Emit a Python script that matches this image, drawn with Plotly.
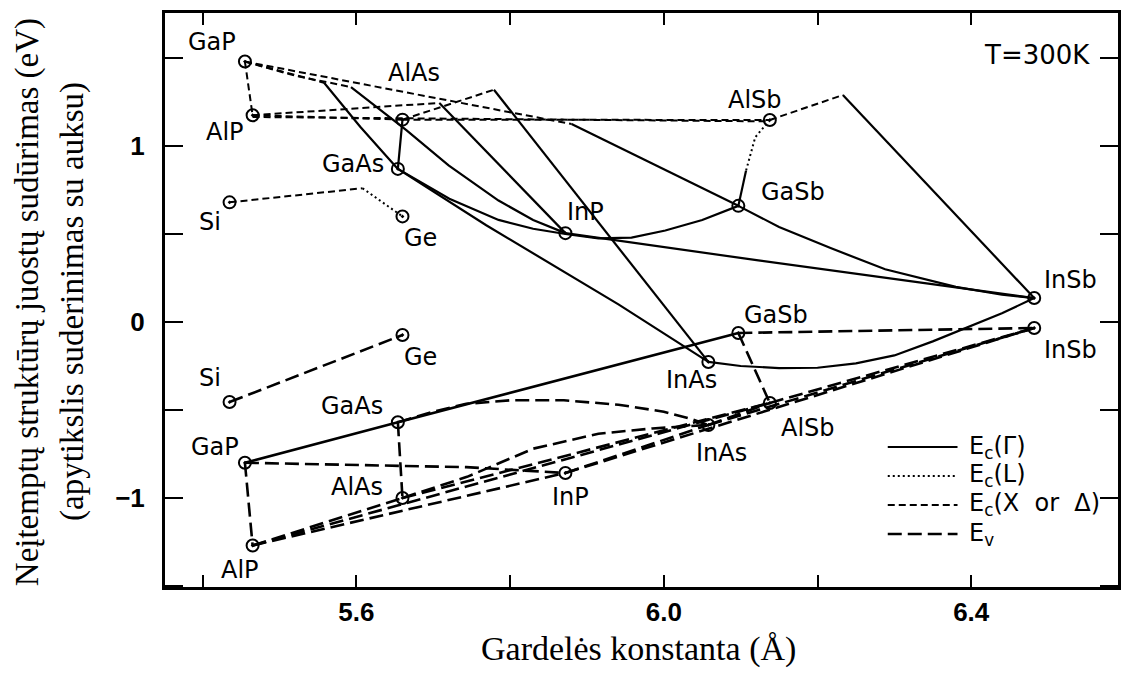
import plotly.graph_objects as go

# ---------------- data ----------------
materials = ["GaP", "AlP", "AlAs", "GaAs", "InP", "GaSb", "AlSb", "InSb", "InAs", "Si", "Ge"]
lattice = [5.455, 5.465, 5.660, 5.654, 5.872, 6.097, 6.138, 6.482, 6.058, 5.435, 5.660]
ec_edge = [1.48, 1.175, 1.15, 0.87, 0.505, 0.66, 1.148, 0.136, -0.227, 0.68, 0.60]
ev_edge = [-0.80, -1.27, -1.00, -0.57, -0.858, -0.0625, -0.46, -0.034, -0.585, -0.455, -0.074]

# conduction band, Gamma (solid)
gaasp_g_x = [5.558, 5.605, 5.654]
gaasp_g_y = [1.36, 1.11, 0.87]
gainp_g_x = [5.593, 5.665, 5.72, 5.785, 5.83, 5.872]
gainp_g_y = [1.335, 1.09, 0.89, 0.69, 0.58, 0.505]
alinp_g_x = [5.708, 5.872]
alinp_g_y = [1.245, 0.505]
alinas_g_x = [5.779, 6.058]
alinas_g_y = [1.32, -0.227]
gainas_g_x = [5.654, 5.70, 5.769, 5.941, 6.058]
gainas_g_y = [0.87, 0.74, 0.55, 0.10, -0.227]
gaassb_g_x = [5.654, 5.721, 5.785, 5.83, 5.872, 5.915, 5.958, 6.002, 6.05, 6.097]
gaassb_g_y = [0.87, 0.70, 0.58, 0.53, 0.50, 0.475, 0.48, 0.52, 0.58, 0.66]
inpsb_g_x = [5.872, 6.123, 6.33, 6.482]
inpsb_g_y = [0.505, 0.35, 0.227, 0.136]
gapsb_g_x = [5.88, 6.097]
gapsb_g_y = [1.125, 0.66]
gainsb_g_x = [6.097, 6.15, 6.217, 6.288, 6.38, 6.44, 6.482]
gainsb_g_y = [0.66, 0.54, 0.42, 0.30, 0.20, 0.155, 0.136]
inassb_g_x = [6.058, 6.10, 6.15, 6.20, 6.25, 6.30, 6.35, 6.39, 6.44, 6.482]
inassb_g_y = [-0.227, -0.25, -0.262, -0.26, -0.235, -0.19, -0.11, -0.04, 0.05, 0.136]
alinsb_g_x = [6.233, 6.482]
alinsb_g_y = [1.29, 0.136]
algaas_g_x = [5.660, 5.654]
algaas_g_y = [1.15, 0.87]
algasb_g_x = [6.107, 6.100, 6.097]
algasb_g_y = [0.86, 0.72, 0.66]

# conduction band, L (dotted)
sige_l_x = [5.608, 5.660]
sige_l_y = [0.76, 0.60]
algasb_l_x = [6.138, 6.119, 6.107]
algasb_l_y = [1.148, 1.05, 0.86]

# conduction band, X or Delta (short dashes)
gapalp_x_x = [5.455, 5.459, 5.464, 5.465]
gapalp_x_y = [1.48, 1.36, 1.20, 1.175]
gaasp_x_x = [5.455, 5.558]
gaasp_x_y = [1.48, 1.36]
gainp_x_x = [5.455, 5.52, 5.593]
gainp_x_y = [1.48, 1.40, 1.335]
gapsb_x_x = [5.455, 5.88]
gapsb_x_y = [1.48, 1.125]
alpas_x_x = [5.465, 5.660]
alpas_x_y = [1.175, 1.15]
alassb_x_x = [5.660, 6.138]
alassb_x_y = [1.15, 1.148]
alpsb_x_x = [5.465, 6.138]
alpsb_x_y = [1.165, 1.14]
alinp_x_x = [5.465, 5.708]
alinp_x_y = [1.175, 1.245]
alinas_x_x = [5.660, 5.779]
alinas_x_y = [1.15, 1.32]
alinsb_x_x = [6.138, 6.233]
alinsb_x_y = [1.148, 1.29]
sige_x_x = [5.435, 5.608]
sige_x_y = [0.68, 0.76]

# valence band (long dashes)
sige_v_x = [5.435, 5.660]
sige_v_y = [-0.455, -0.074]
gainp_v_x = [5.455, 5.743, 5.872]
gainp_v_y = [-0.80, -0.825, -0.858]
gapalp_v_x = [5.455, 5.461, 5.465]
gapalp_v_y = [-0.80, -1.085, -1.27]
algaas_v_x = [5.654, 5.660]
algaas_v_y = [-0.57, -1.00]
gainas_v_x = [5.654, 5.70, 5.743, 5.80, 5.87, 5.941, 6.0, 6.035, 6.058]
gainas_v_y = [-0.57, -0.51, -0.465, -0.445, -0.445, -0.47, -0.51, -0.55, -0.585]
alinas_v_x = [5.660, 5.744, 5.83, 5.915, 5.985, 6.058]
alinas_v_y = [-1.00, -0.88, -0.72, -0.635, -0.605, -0.585]
alpas_v_x = [5.465, 5.660]
alpas_v_y = [-1.27, -1.00]
alassb_v_x = [5.660, 6.138]
alassb_v_y = [-1.00, -0.46]
alpsb_v_x = [5.465, 6.138]
alpsb_v_y = [-1.27, -0.46]
alinp_v_x = [5.465, 5.872]
alinp_v_y = [-1.27, -0.858]
inasp_v_x = [5.872, 6.058]
inasp_v_y = [-0.858, -0.585]
inpsb_v_x = [5.872, 6.482]
inpsb_v_y = [-0.858, -0.034]
inassb_v_x = [6.058, 6.482]
inassb_v_y = [-0.585, -0.034]
alinsb_v_x = [6.138, 6.482]
alinsb_v_y = [-0.46, -0.034]
inalassb_v_x = [6.058, 6.138]
inalassb_v_y = [-0.585, -0.46]
algasb_v_x = [6.097, 6.138]
algasb_v_y = [-0.0625, -0.46]
gainsb_v_x = [6.097, 6.482]
gainsb_v_y = [-0.0625, -0.034]
# GaP - GaAs - GaSb valence line (drawn solid in the picture)
gapassb_v_x = [5.455, 5.654, 6.097]
gapassb_v_y = [-0.80, -0.57, -0.0625]

# ---------------- styles ----------------
S_G = dict(color="black", width=2.2, dash="solid")
S_L = dict(color="black", width=2, dash="2px,3px")
S_X = dict(color="black", width=2, dash="7px,4px")
S_V = dict(color="black", width=2.6, dash="14px,6px")
S_VS = dict(color="black", width=2.6, dash="solid")

fig = go.Figure()


def add(xs, ys, style):
    fig.add_trace(go.Scatter(x=xs, y=ys, mode="lines", line=style,
                             showlegend=False, hoverinfo="skip"))


for xs, ys in [(gaasp_g_x, gaasp_g_y), (gainp_g_x, gainp_g_y), (alinp_g_x, alinp_g_y),
               (alinas_g_x, alinas_g_y), (gainas_g_x, gainas_g_y), (gaassb_g_x, gaassb_g_y),
               (inpsb_g_x, inpsb_g_y), (gapsb_g_x, gapsb_g_y), (gainsb_g_x, gainsb_g_y),
               (inassb_g_x, inassb_g_y), (alinsb_g_x, alinsb_g_y), (algaas_g_x, algaas_g_y),
               (algasb_g_x, algasb_g_y)]:
    add(xs, ys, S_G)

for xs, ys in [(sige_l_x, sige_l_y), (algasb_l_x, algasb_l_y)]:
    add(xs, ys, S_L)

for xs, ys in [(gapalp_x_x, gapalp_x_y), (gaasp_x_x, gaasp_x_y), (gainp_x_x, gainp_x_y),
               (gapsb_x_x, gapsb_x_y), (alpas_x_x, alpas_x_y), (alassb_x_x, alassb_x_y),
               (alpsb_x_x, alpsb_x_y), (alinp_x_x, alinp_x_y), (alinas_x_x, alinas_x_y),
               (alinsb_x_x, alinsb_x_y), (sige_x_x, sige_x_y)]:
    add(xs, ys, S_X)

for xs, ys in [(sige_v_x, sige_v_y), (gainp_v_x, gainp_v_y), (gapalp_v_x, gapalp_v_y),
               (algaas_v_x, algaas_v_y), (gainas_v_x, gainas_v_y), (alinas_v_x, alinas_v_y),
               (alpas_v_x, alpas_v_y), (alassb_v_x, alassb_v_y), (alpsb_v_x, alpsb_v_y),
               (alinp_v_x, alinp_v_y), (inasp_v_x, inasp_v_y), (inpsb_v_x, inpsb_v_y),
               (inassb_v_x, inassb_v_y), (alinsb_v_x, alinsb_v_y), (inalassb_v_x, inalassb_v_y),
               (algasb_v_x, algasb_v_y), (gainsb_v_x, gainsb_v_y)]:
    add(xs, ys, S_V)

add(gapassb_v_x, gapassb_v_y, S_VS)

# binary compound markers
marker = dict(symbol="circle-open-dot", size=12, color="black", line=dict(width=2, color="black"))
fig.add_trace(go.Scatter(x=lattice, y=ec_edge, mode="markers", marker=marker,
                         text=materials, showlegend=False, hoverinfo="text"))
fig.add_trace(go.Scatter(x=lattice, y=ev_edge, mode="markers", marker=marker,
                         text=materials, showlegend=False, hoverinfo="text"))

# ---------------- labels ----------------
lab_font = dict(family="DejaVu Sans, sans-serif", size=24, color="black")
labels = [
    ("GaP", 5.412, 1.59), ("AlP", 5.429, 1.08), ("AlAs", 5.675, 1.415), ("GaAs", 5.595, 0.90),
    ("Si", 5.409, 0.57), ("Ge", 5.684, 0.48), ("InP", 5.898, 0.625), ("AlSb", 6.119, 1.26),
    ("GaSb", 6.168, 0.74), ("InSb", 6.529, 0.24),
    ("GaSb", 6.146, 0.04), ("InSb", 6.529, -0.16), ("InAs", 6.036, -0.33), ("InAs", 6.075, -0.745),
    ("AlSb", 6.188, -0.60), ("InP", 5.879, -0.995), ("AlAs", 5.601, -0.94), ("GaAs", 5.594, -0.48),
    ("GaP", 5.416, -0.71), ("AlP", 5.448, -1.41), ("Si", 5.409, -0.32), ("Ge", 5.684, -0.20),
]
for t, x, y in labels:
    fig.add_annotation(x=x, y=y, text=t, showarrow=False, font=lab_font,
                       xanchor="center", yanchor="middle")
fig.add_annotation(x=6.486, y=1.52, text="T=300K", showarrow=False,
                   xanchor="center", yanchor="middle",
                   font=dict(family="DejaVu Sans, sans-serif", size=26, color="black"))

# legend drawn by hand (long line samples)
legend_rows = [("E<sub>c</sub>(Γ)", S_G), ("E<sub>c</sub>(L)", S_L),
               ("E<sub>c</sub>(X\u00a0 or\u00a0 Δ)", S_X), ("E<sub>v</sub>", S_V)]
row_y = [0.2439, 0.1934, 0.1429, 0.0923]
for (txt, st), yy in zip(legend_rows, row_y):
    fig.add_shape(type="line", xref="paper", yref="paper", x0=0.7584, x1=0.8316, y0=yy, y1=yy,
                  line=st)
    fig.add_annotation(xref="paper", yref="paper", x=0.842, y=yy, text=txt, showarrow=False,
                       xanchor="left", yanchor="middle", font=lab_font)

# axis titles (positions in paper units of the plot area)
ytitle_font = dict(family="Liberation Serif, Times New Roman, serif", size=33, color="black")
xtitle_font = dict(family="Liberation Serif, Times New Roman, serif", size=34, color="black")
fig.add_annotation(xref="paper", yref="paper", x=-0.1443, y=0.497, textangle=-90, showarrow=False,
                   xanchor="center", yanchor="middle",
                   text="Neįtemptų struktūrų juostų sudūrimas (eV)", font=ytitle_font)
fig.add_annotation(xref="paper", yref="paper", x=-0.0973, y=0.497, textangle=-90, showarrow=False,
                   xanchor="center", yanchor="middle",
                   text="(apytikslis suderinimas su auksu)", font=ytitle_font)
fig.add_annotation(xref="paper", yref="paper", x=0.497, y=-0.1080, showarrow=False,
                   xanchor="center", yanchor="middle",
                   text="Gardelės konstanta (Å)", font=xtitle_font)

tick_font = dict(family="Liberation Sans, Arial, sans-serif", size=26, color="black", weight="bold")
fig.update_xaxes(range=[5.351, 6.591], showline=True, linewidth=3, linecolor="black",
                 mirror="ticks", ticks="inside", ticklen=12, tickwidth=2, tickcolor="black",
                 tick0=5.6, dtick=0.4, tickformat=".1f",
                 minor=dict(tick0=5.6, dtick=0.2, ticks="inside", ticklen=12, tickwidth=2,
                            tickcolor="black"),
                 tickfont=tick_font, ticklabelstandoff=0, showgrid=False, zeroline=False)
fig.update_yaxes(range=[-1.506, 1.756], showline=True, linewidth=3, linecolor="black",
                 mirror="ticks", ticks="inside", ticklen=18, tickwidth=2, tickcolor="black",
                 tick0=0, dtick=1,
                 minor=dict(tick0=0, dtick=0.5, ticks="inside", ticklen=18, tickwidth=2,
                            tickcolor="black"),
                 tickfont=tick_font, ticklabelstandoff=12, showgrid=False, zeroline=False)
fig.update_layout(width=1121, height=674, margin=dict(l=165, r=0, t=13, b=87),
                  paper_bgcolor="white", plot_bgcolor="white", showlegend=False)

fig.write_html("out.html")
